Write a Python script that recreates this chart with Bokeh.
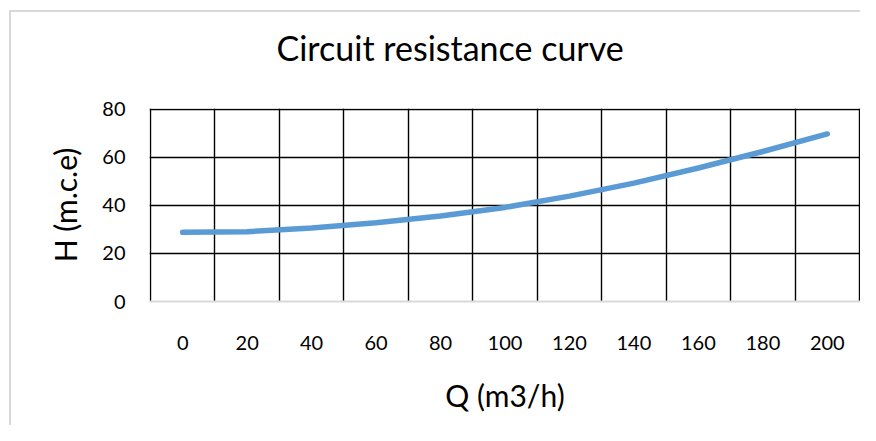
from bokeh.plotting import figure
from bokeh.models import Range1d, FixedTicker, Title
from bokeh.embed import file_html
from bokeh.resources import INLINE

# Data
flow_q = [0, 20, 40, 60, 80, 100, 120, 140, 160, 180, 200]          # Q (m3/h)
head_h = [28.8, 29.1, 30.6, 32.8, 35.6, 39.2, 43.9, 49.3, 55.6, 62.5, 69.8]  # H (m.c.e)
y_ticks = [0, 20, 40, 60, 80]
title_text = "Circuit resistance curve"
x_label = "Q (m3/h)"
y_label = "H (m.c.e)"

FONT = "Lato"

step = flow_q[1] - flow_q[0]
half = step / 2.0

p = figure(width=860, height=425, output_backend="svg", toolbar_location=None,
           x_range=Range1d(flow_q[0] - half - 0.3, flow_q[-1] + half + 0.3),
           y_range=Range1d(y_ticks[0], y_ticks[-1] + 0.4),
           min_border_left=149, min_border_right=0,
           min_border_top=108, min_border_bottom=124)
# light grey chart-area border (top and left edges), drawn behind the transparent canvas
p.styles = {
    "background-color": "white",
    "background-image": "linear-gradient(#d9d9d9, #d9d9d9), linear-gradient(#d9d9d9, #d9d9d9)",
    "background-size": "100% 2px, 2px 100%",
    "background-position": "9px 10px, 9px 10px",
    "background-repeat": "no-repeat",
}
p.outline_line_color = None
p.background_fill_color = "white"
p.border_fill_color = None

# title: a small invisible spacer next to the frame, then the real title above it
p.title.text = ""
p.add_layout(Title(text=" ", text_font_size="10px", standoff=28), "above")
p.add_layout(Title(text=title_text, align="left", offset=127, standoff=0,
                   text_font=FONT, text_font_size="34px", text_font_style="normal",
                   text_color="black"), "above")

# grid lines at category boundaries
p.xgrid.ticker = FixedTicker(ticks=[q - half for q in flow_q] + [flow_q[-1] + half])
p.ygrid.ticker = FixedTicker(ticks=y_ticks[1:])
for g in (p.xgrid, p.ygrid):
    g.grid_line_color = "black"
    g.grid_line_width = 1.4

p.line(flow_q, head_h, line_color="#5B9BD5", line_width=5.5, line_cap="round", line_join="round")

# axes
p.xaxis.ticker = FixedTicker(ticks=flow_q)
p.yaxis.ticker = FixedTicker(ticks=y_ticks)
for ax in (p.xaxis, p.yaxis):
    ax.major_tick_line_color = None
    ax.minor_tick_line_color = None
    ax.major_label_text_font = FONT
    ax.major_label_text_font_size = "20px"
    ax.major_label_text_color = "black"
    ax.axis_label_text_font = FONT
    ax.axis_label_text_font_size = "30px"
    ax.axis_label_text_font_style = "normal"
    ax.axis_label_text_color = "black"
p.xaxis.axis_line_color = "#d9d9d9"
p.xaxis.axis_line_width = 2
p.yaxis.axis_line_color = None
p.xaxis.major_label_standoff = 28
p.yaxis.major_label_standoff = 18
p.xaxis.axis_label = x_label
p.yaxis.axis_label = y_label
p.xaxis.axis_label_standoff = 24
p.yaxis.axis_label_standoff = 16

open("out.html", "w").write(file_html(p, INLINE))
